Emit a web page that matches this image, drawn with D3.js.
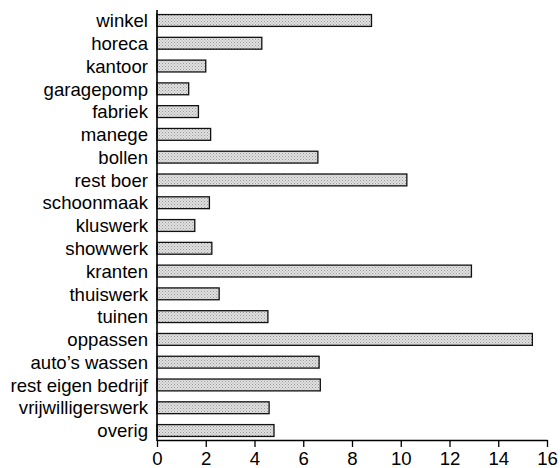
<!DOCTYPE html>
<html><head><meta charset="utf-8">
<script src="https://cdn.jsdelivr.net/npm/d3@7"></script>
<style>body{margin:0;background:#fff}svg{display:block}</style>
</head><body>
<script>
const categories = ["winkel","horeca","kantoor","garagepomp","fabriek","manege","bollen","rest boer","schoonmaak","kluswerk","showwerk","kranten","thuiswerk","tuinen","oppassen","auto’s wassen","rest eigen bedrijf","vrijwilligerswerk","overig"];
const values = [8.8,4.3,2.0,1.3,1.7,2.2,6.6,10.25,2.15,1.55,2.25,12.9,2.55,4.55,15.4,6.65,6.7,4.6,4.8];
const xTicks = [0,2,4,6,8,10,12,14,16];

const W=560,H=468;
const svg=d3.select("body").append("svg").attr("width",W).attr("height",H);
const x=d3.scaleLinear().domain([0,16]).range([157,547]);
const y=d3.scaleBand().domain(categories).range([10,441]).paddingInner(0.48).paddingOuter(0.2);

const defs=svg.append("defs");
const pat=defs.append("pattern").attr("id","dots").attr("width",3).attr("height",3).attr("patternUnits","userSpaceOnUse");
pat.append("rect").attr("width",3).attr("height",3).attr("fill","#e0e0e0");
pat.append("rect").attr("x",0).attr("y",0).attr("width",1).attr("height",1).attr("fill","#999");
pat.append("rect").attr("x",1.5).attr("y",1.5).attr("width",1).attr("height",1).attr("fill","#aaa");

svg.append("g").selectAll("rect").data(categories).join("rect")
  .attr("x",x(0)).attr("y",d=>y(d))
  .attr("width",(d,i)=>x(values[i])-x(0)).attr("height",y.bandwidth())
  .attr("fill","url(#dots)").attr("stroke","#111").attr("stroke-width",1.3);

svg.append("g").selectAll("text").data(categories).join("text")
  .attr("x",148).attr("y",d=>y(d)+y.bandwidth()/2).attr("dy","0.36em")
  .attr("text-anchor","end").attr("font-family","Liberation Sans, Arial, sans-serif")
  .attr("font-size",18.6).attr("fill","#000").text(d=>d);

svg.append("line").attr("x1",x(0)).attr("x2",x(0)).attr("y1",10).attr("y2",441).attr("stroke","#000").attr("stroke-width",1.6);

const ax=svg.append("g").attr("transform","translate(0,440)")
  .call(d3.axisBottom(x).tickValues(xTicks).tickSize(7).tickPadding(5).tickSizeOuter(0));
ax.select(".domain").attr("stroke","#000").attr("stroke-width",1.6);
ax.selectAll(".tick line").attr("stroke","#000").attr("stroke-width",1.3);
ax.selectAll("text").attr("font-family","Liberation Sans, Arial, sans-serif").attr("font-size",18.6).attr("fill","#000");
</script>
</body></html>
